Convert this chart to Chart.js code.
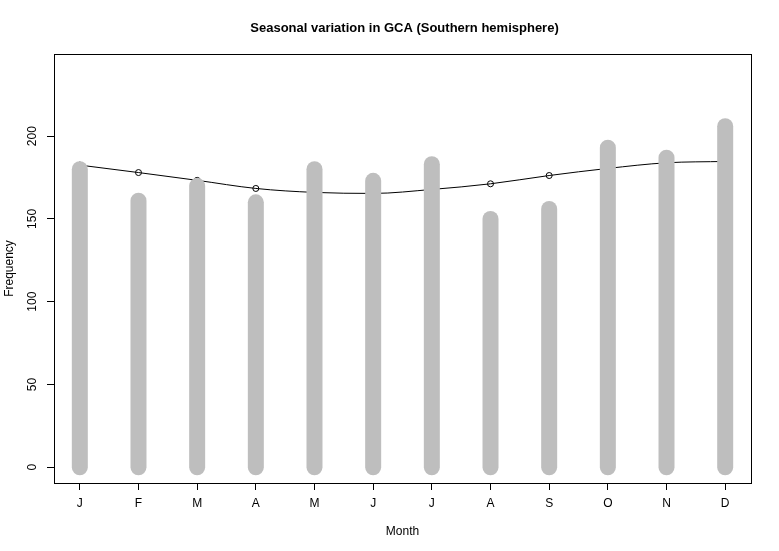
<!DOCTYPE html>
<html lang="en">
<head>
<meta charset="UTF-8">
<title>Seasonal variation in GCA</title>
<script src="https://cdn.jsdelivr.net/npm/chart.js"></script>
<style>
  body { margin: 0; background: #fff; }
  #wrap { width: 779px; height: 551px; }
</style>
</head>
<body>
<div id="wrap"><canvas id="gcaChart"></canvas></div>
<script>
// monthly counts (gray sticks) and fitted seasonal curve
const months = ['J', 'F', 'M', 'A', 'M', 'J', 'J', 'A', 'S', 'O', 'N', 'D'];
const counts = [180, 161, 170, 160, 180, 173, 183, 150, 156, 193, 187, 206];
const fitted = [182.5, 178, 173.3, 168.4, 166, 165.4, 167.8, 171.2, 176.2, 180.5, 183.9, 184.7];
const yTicks = [0, 50, 100, 150, 200];
const titleText = 'Seasonal variation in GCA (Southern hemisphere)';

const FONT = '"Liberation Sans", Arial, Helvetica, sans-serif';

// box, title and rotated y labels the way R draws them
const rFrame = {
    id: 'rFrame',
    afterDraw(chart) {
        const { ctx, chartArea: a, scales } = chart;
        ctx.save();
        ctx.strokeStyle = '#000';
        ctx.lineWidth = 1;
        ctx.strokeRect(Math.round(a.left) + 0.5, Math.round(a.top) + 0.5,
            Math.round(a.right - a.left), Math.round(a.bottom - a.top));

        ctx.fillStyle = '#000';
        ctx.textAlign = 'center';
        ctx.textBaseline = 'middle';
        ctx.font = 'bold 13px ' + FONT;
        ctx.fillText(titleText, (a.left + a.right) / 2 + 2, 28);

        ctx.font = '12px ' + FONT;
        yTicks.forEach(v => {
            const y = scales.y.getPixelForValue(v);
            ctx.save();
            ctx.translate(33, y);
            ctx.rotate(-Math.PI / 2);
            ctx.fillText(String(v), 0, 0);
            ctx.restore();
        });
        ctx.restore();
    }
};

const datasets = [{
    label: 'fitted',
    data: fitted.map((v, i) => ({ x: i + 1, y: v })),
    borderColor: '#000',
    borderWidth: 1,
    cubicInterpolationMode: 'monotone',
    pointRadius: 3,
    pointBorderWidth: 1,
    pointBorderColor: '#000',
    pointBackgroundColor: 'rgba(0,0,0,0)',
    fill: false,
    order: 2
}];

counts.forEach((v, i) => {
    datasets.push({
        label: months[i],
        data: [{ x: i + 1, y: 0 }, { x: i + 1, y: v }],
        borderColor: '#BEBEBE',
        borderWidth: 16,
        borderCapStyle: 'round',
        pointRadius: 0,
        fill: false,
        order: 1
    });
});

new Chart(document.getElementById('gcaChart'), {
    type: 'line',
    data: { datasets: datasets },
    options: {
        responsive: true,
        maintainAspectRatio: false,
        animation: false,
        layout: { padding: { top: 54, right: 28, left: 0, bottom: 0 } },
        plugins: {
            legend: { display: false },
            title: { display: false },
            tooltip: { enabled: false }
        },
        scales: {
            x: {
                type: 'linear',
                min: 0.56,
                max: 12.44,
                afterBuildTicks: s => { s.ticks = months.map((m, i) => ({ value: i + 1 })); },
                afterFit: s => { s.height = 68; },
                ticks: {
                    autoSkip: false,
                    maxRotation: 0,
                    padding: 6,
                    color: '#000',
                    font: { family: FONT, size: 12 },
                    callback: (v, i) => months[i]
                },
                grid: { drawOnChartArea: false, drawTicks: true, tickLength: 7, color: '#000' },
                border: { display: false },
                title: {
                    display: true,
                    text: 'Month',
                    color: '#000',
                    font: { family: FONT, size: 12 },
                    padding: { top: 0, bottom: 12 }
                }
            },
            y: {
                min: -9.5,
                max: 249.6,
                afterBuildTicks: s => { s.ticks = yTicks.map(v => ({ value: v })); },
                afterFit: s => { s.width = 54; },
                ticks: { display: false },
                grid: { drawOnChartArea: false, drawTicks: true, tickLength: 7, color: '#000' },
                border: { display: false },
                title: {
                    display: true,
                    text: 'Frequency',
                    color: '#000',
                    font: { family: FONT, size: 12 },
                    padding: { top: 2, bottom: 0 }
                }
            }
        }
    },
    plugins: [rFrame]
});
</script>
</body>
</html>
